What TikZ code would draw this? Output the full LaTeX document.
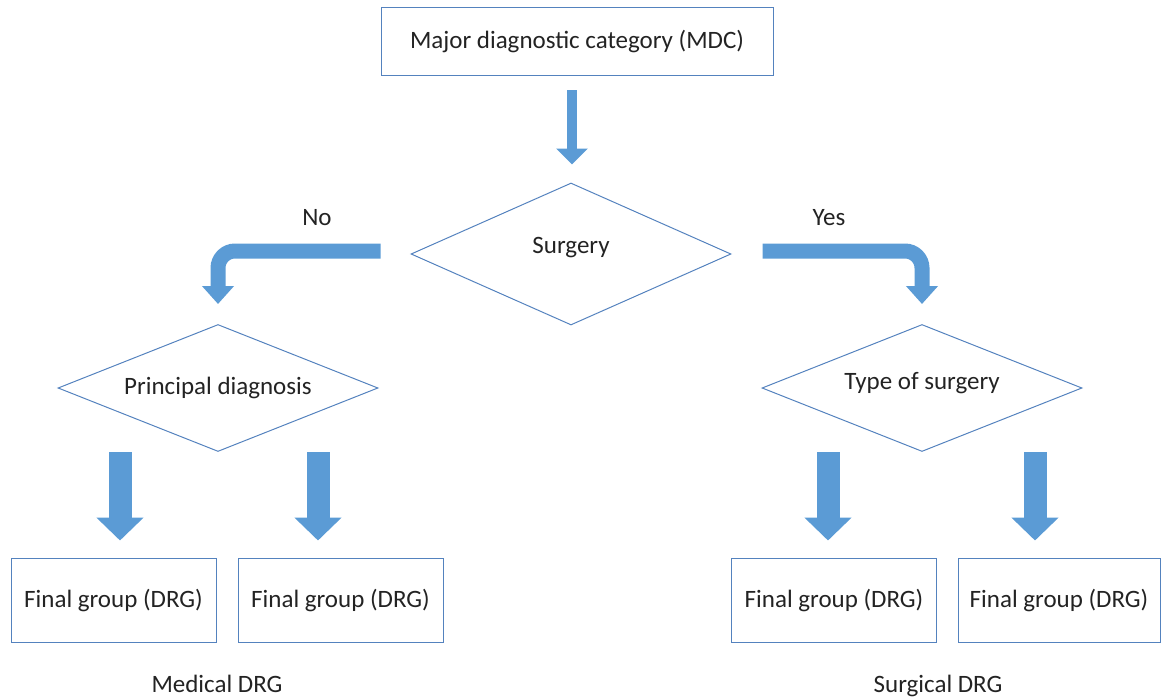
\documentclass[tikz,border=0pt]{standalone}
\usepackage{fontspec}
\setmainfont{Carlito}
\usetikzlibrary{shapes.geometric,arrows.meta}
\definecolor{boxline}{RGB}{84,130,190}
\definecolor{arrowfill}{RGB}{91,155,213}
\definecolor{textgray}{RGB}{35,35,35}

\begin{document}
\begin{tikzpicture}[
  x=1pt, y=-1pt,
  every node/.style={font=\fontsize{25}{30}\selectfont, text=textgray},
  box/.style={rectangle, draw=boxline, line width=1pt, minimum width=205pt,
              minimum height=84pt, inner sep=0pt},
  decision/.style={diamond, aspect=2.5, draw=boxline, line width=1pt, minimum width=320pt,
                   minimum height=127pt, inner sep=0pt},
  tag/.style={inner sep=0pt},
  thinarrow/.style={-{Triangle[width=31pt,length=16pt]}, line width=10pt, draw=arrowfill},
  bentarrow/.style={-{Triangle[width=31pt,length=18pt]}, line width=15pt, draw=arrowfill,
                    rounded corners=17pt},
  fatarrow/.style={-{Triangle[width=46pt,length=23pt]}, line width=23pt, draw=arrowfill}
]
  \useasboundingbox (0,0) rectangle (1161,698);

  \node[box, minimum width=392pt, minimum height=68pt] (mdc) at (577, 42) {Major diagnostic category (MDC)};
  \node[decision, minimum height=142pt, text depth=18pt] (surg) at (571, 254) {Surgery};

  \node[decision] (pdiag) at (218, 388) {Principal diagnosis};
  \node[decision, text depth=15pt] (tsurg) at (922, 388) {Type of surgery};

  \node[box] (fg1) at (113.5, 600) {Final group (DRG)};
  \node[box] (fg2) at (340.5, 600) {Final group (DRG)};
  \node[box] (fg3) at (834, 600)   {Final group (DRG)};
  \node[box, minimum width=202pt] (fg4) at (1059, 600) {Final group (DRG)};

  \node[tag] (no)  at (317, 218) {No};
  \node[tag] (yes) at (829, 218) {Yes};
  \node[tag, anchor=base] (med) at (217, 692) {Medical DRG};
  \node[tag, anchor=base] (sur) at (938, 692) {Surgical DRG};

  \draw[thinarrow, shorten <=14pt, shorten >=18pt] ([xshift=-5pt]mdc.south) -- ([xshift=-5pt]mdc.south |- surg.north);
  \draw[bentarrow] ([xshift=-30pt, yshift=3pt]surg.west) -| ([yshift=20pt]pdiag.north);
  \draw[bentarrow] ([xshift=31pt, yshift=3pt]surg.east) -| ([yshift=20pt]tsurg.north);

  \draw[fatarrow, shorten >=17pt] ([xshift=-98pt]pdiag.south) -- ([xshift=-98pt]pdiag.south |- fg1.north);
  \draw[fatarrow, shorten >=17pt] ([xshift=100pt]pdiag.south) -- ([xshift=100pt]pdiag.south |- fg2.north);
  \draw[fatarrow, shorten >=17pt] ([xshift=-94pt]tsurg.south) -- ([xshift=-94pt]tsurg.south |- fg3.north);
  \draw[fatarrow, shorten >=17pt] ([xshift=113pt]tsurg.south) -- ([xshift=113pt]tsurg.south |- fg4.north);
\end{tikzpicture}
\end{document}
